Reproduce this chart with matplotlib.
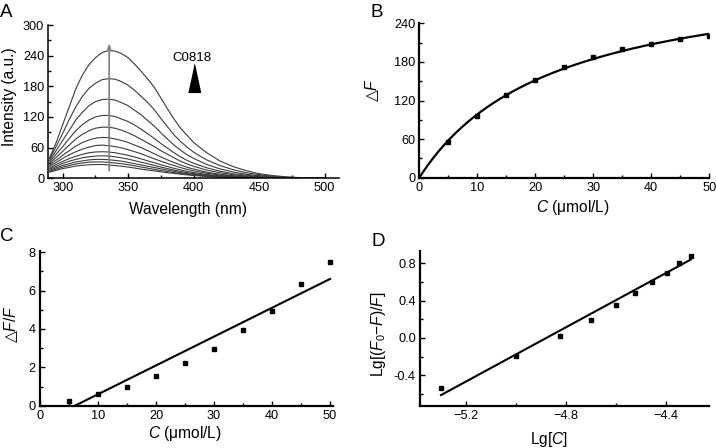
import numpy as np
import matplotlib
matplotlib.use("Agg")
import matplotlib.pyplot as plt
from matplotlib.ticker import MultipleLocator, FuncFormatter, FixedLocator

plt.rcParams['font.family'] = ['Liberation Sans', 'DejaVu Sans']
plt.rcParams['mathtext.fontset'] = 'custom'
plt.rcParams['mathtext.rm'] = 'Liberation Sans'
plt.rcParams['mathtext.it'] = 'Liberation Sans:italic'
plt.rcParams['mathtext.bf'] = 'Liberation Sans:bold'
plt.rcParams['mathtext.sf'] = 'DejaVu Sans'

# ---------------- Panel A: fluorescence spectra ----------------
wavelength = [290, 295, 300, 305, 310, 315, 320, 325, 330, 335, 340, 345, 350, 355, 360,
              365, 370, 375, 380, 385, 390, 395, 400,
              410, 420, 430, 440, 450, 460, 470, 480, 490, 500]
spectra = [
    [40, 70, 105, 140, 175, 202, 222, 236, 246, 250, 249, 244, 236, 223, 209,
     194, 178, 157, 136, 116, 98, 84, 70,
     50, 34, 23, 15, 9, 5.5, 3, 1.5, 0.7, 0],
    [38, 62, 88, 115, 140, 160, 176, 186, 193, 195, 194, 189, 182, 172, 160,
     148, 134, 117, 101, 85, 72, 61, 51,
     36, 25, 17, 11, 7, 4, 2, 1, 0.5, 0],
    [35, 54, 74, 94, 114, 129, 142, 150, 154, 155, 153, 148, 142, 133, 124,
     113, 102, 89, 77, 65, 55, 46, 39,
     27, 18.5, 12.5, 8, 5, 3, 1.5, 0.8, 0.4, 0],
    [32, 47, 62, 78, 93, 105, 114, 120, 123, 123, 121, 116, 111, 104, 96,
     87, 78, 68, 59, 50, 42, 35, 29.5,
     20.5, 14, 9, 6, 3.8, 2.2, 1.2, 0.6, 0.3, 0],
    [29, 41, 53, 65, 77, 86, 93, 98, 100, 100, 98, 94, 89, 83, 76,
     69, 62, 54, 47, 40, 33.5, 28, 23.5,
     16, 11, 7, 4.6, 2.9, 1.7, 0.9, 0.5, 0.2, 0],
    [26, 35.5, 45, 54, 63, 70, 75, 78.5, 80, 79.5, 77, 74, 70, 65, 60,
     54, 48, 42, 36, 31, 26, 21.5, 18,
     12, 8, 5.2, 3.4, 2.1, 1.2, 0.6, 0.3, 0.1, 0],
    [23, 31, 39, 46, 52, 57, 61, 64, 65, 64, 62, 59.5, 56, 52, 48,
     43, 38, 33.5, 29, 25, 21, 17.5, 14.5,
     9.8, 6.5, 4.2, 2.6, 1.6, 0.9, 0.5, 0.2, 0, 0],
    [20, 27, 33, 38.5, 43, 47, 50, 51.5, 52, 51.5, 50, 47.5, 45, 41.5, 38,
     34, 30.5, 26.5, 23, 19.5, 16.5, 13.5, 11.2,
     7.5, 5, 3.2, 2, 1.2, 0.7, 0.3, 0.1, 0, 0],
    [18, 23.5, 29, 33.5, 37, 40, 42, 43.5, 44, 43.5, 42, 40, 37.5, 34.5, 31.5,
     28.5, 25, 22, 19, 16, 13.5, 11, 9,
     6, 4, 2.5, 1.5, 0.9, 0.5, 0.2, 0, 0, 0],
    [16, 20.5, 25, 28.5, 32, 34, 36, 37, 37, 36.5, 35, 33.5, 31, 28.5, 26,
     23.5, 21, 18.5, 16, 13.5, 11, 9.2, 7.5,
     5, 3.3, 2, 1.2, 0.7, 0.4, 0.2, 0, 0, 0],
    [14, 18, 22, 25, 28, 30, 31.5, 32, 32, 31.2, 30, 28.5, 26.5, 24.3, 22,
     19.8, 17.5, 15.3, 13, 11.2, 9.5, 7.9, 6.5,
     4.3, 2.8, 1.7, 1, 0.6, 0.3, 0.1, 0, 0, 0],
    [12, 15.5, 19, 21.5, 24, 25.5, 26.5, 27, 27, 26.2, 25, 23.6, 22, 20, 18,
     16.2, 14.5, 12.7, 11, 9.5, 8, 6.7, 5.5,
     3.6, 2.3, 1.4, 0.8, 0.5, 0.3, 0.1, 0, 0, 0],
]
arrow_wavelength = 335.5
arrow_range = [15, 265]
label_a = "C0818"
label_a_pos = (399, 236)
triangle_pos = (400, 197)

# ---------------- Panel B: ΔF vs C ----------------
conc_b = [5, 10, 15, 20, 25, 30, 35, 40, 45, 50]
dF_b = [56, 96, 128, 152, 172.6, 188, 199.6, 208, 215.7, 220]
fit_b_fmax = 328.0
fit_b_kd = 23.3

# ---------------- Panel C: ΔF/F vs C ----------------
conc_c = [5, 10, 15, 20, 25, 30, 35, 40, 45, 50]
ratio_c = [0.26, 0.61, 1.0, 1.53, 2.23, 2.97, 3.95, 4.92, 6.37, 7.51]
fit_c_slope = 0.1503
fit_c_intercept = -0.906

# ---------------- Panel D: double log ----------------
lg_c = [-5.301, -5.0, -4.824, -4.699, -4.602, -4.523, -4.456, -4.398, -4.347, -4.301]
lg_ratio = [-0.54, -0.198, 0.025, 0.19, 0.353, 0.479, 0.60, 0.69, 0.80, 0.872]
fit_d_slope = 1.45
fit_d_intercept = 7.075

W, H = 716, 448
fig = plt.figure(figsize=(W / 100, H / 100), dpi=100)


def rect(l, r, t, b):
    return [l / W, 1 - b / H, (r - l) / W, (b - t) / H]


TICK_FS = 9.2
LABEL_FS = 11.2
DELTA = r'$\mathsf{△}$'


def style(ax, lw=1.5):
    for s in ['top', 'right']:
        ax.spines[s].set_visible(False)
    for s in ['left', 'bottom']:
        ax.spines[s].set_linewidth(lw)
    ax.tick_params(which='major', direction='in', length=3.5, width=1, labelsize=TICK_FS, pad=3)
    ax.tick_params(which='minor', direction='in', length=2.5, width=1)


# Panel A
axA = fig.add_axes(rect(48.3, 339, 25, 178.3))
style(axA, lw=1.1)
for sp in spectra:
    axA.plot(wavelength, sp, color='#3c3c3c', lw=0.8)
axA.annotate('', xy=(arrow_wavelength, arrow_range[1]), xytext=(arrow_wavelength, arrow_range[0]),
             arrowprops=dict(arrowstyle='-|>,head_width=0.1,head_length=0.3', color='#858585', lw=1.3,
                             shrinkA=0, shrinkB=0))
axA.text(label_a_pos[0], label_a_pos[1], label_a, ha='center', va='center', fontsize=9.5)
axA.plot([triangle_pos[0]], [triangle_pos[1]], marker=[(-0.43, -1), (0.43, -1), (0, 1)],
         markersize=20, color='black', linestyle='none')
axA.set_xlim(289, 511)
axA.set_ylim(0, 300)
axA.xaxis.set_major_locator(MultipleLocator(50))
axA.xaxis.set_minor_locator(MultipleLocator(25))
axA.yaxis.set_major_locator(MultipleLocator(60))
axA.yaxis.set_minor_locator(MultipleLocator(30))
axA.set_xlabel('Wavelength (nm)', fontsize=LABEL_FS)
axA.set_ylabel('Intensity (a.u.)', fontsize=LABEL_FS)
axA.xaxis.set_label_coords(0.48, -0.153)
axA.yaxis.set_label_coords(-0.109, 0.532)

# Panel B
axB = fig.add_axes(rect(419.3, 709.3, 23.3, 177.7))
style(axB, lw=1.6)
xs = np.linspace(0, max(conc_b), 300)
axB.plot(xs, fit_b_fmax * xs / (fit_b_kd + xs), color='black', lw=1.6)
axB.plot(conc_b, dF_b, 's', color='black', markersize=3.2)
axB.set_xlim(0, 50)
axB.set_ylim(0, 240)
axB.xaxis.set_major_locator(MultipleLocator(10))
axB.xaxis.set_minor_locator(MultipleLocator(5))
axB.yaxis.set_major_locator(MultipleLocator(60))
axB.yaxis.set_minor_locator(MultipleLocator(30))
axB.set_xlabel(r'$\mathit{C}$ (μmol/L)', fontsize=LABEL_FS)
axB.set_ylabel(DELTA + r'$\mathit{F}$', fontsize=LABEL_FS)
axB.xaxis.set_label_coords(0.529, -0.133)
axB.yaxis.set_label_coords(-0.132, 0.568)

# Panel C
axC = fig.add_axes(rect(40, 333, 250.7, 405.7))
style(axC, lw=1.6)
xc = np.array([conc_c[0], conc_c[-1]], dtype=float)
axC.plot(xc, fit_c_slope * xc + fit_c_intercept, color='black', lw=1.5)
axC.plot(conc_c, ratio_c, 's', color='black', markersize=3.2)
axC.set_xlim(0, 50.5)
axC.set_ylim(0, 8.08)
axC.xaxis.set_major_locator(MultipleLocator(10))
axC.xaxis.set_minor_locator(MultipleLocator(5))
axC.yaxis.set_major_locator(MultipleLocator(2))
axC.yaxis.set_minor_locator(MultipleLocator(1))
axC.set_xlabel(r'$\mathit{C}$ (μmol/L)', fontsize=LABEL_FS)
axC.set_ylabel(DELTA + r'$\mathit{F}$/$\mathit{F}$', fontsize=LABEL_FS)
axC.xaxis.set_label_coords(0.495, -0.118)
axC.yaxis.set_label_coords(-0.068, 0.527)

# Panel D
axD = fig.add_axes(rect(420, 709.3, 251, 405.7))
style(axD, lw=1.6)
xd = np.array([lg_c[0], lg_c[-1]])
axD.plot(xd, fit_d_slope * xd + fit_d_intercept, color='black', lw=1.5)
axD.plot(lg_c, lg_ratio, 's', color='black', markersize=3.2)
axD.set_xlim(-5.385, -4.227)
axD.set_ylim(-0.725, 0.93)
axD.xaxis.set_major_locator(FixedLocator([-5.2, -4.8, -4.4]))
axD.xaxis.set_minor_locator(FixedLocator([-5.0, -4.6]))
axD.yaxis.set_major_locator(FixedLocator([-0.4, 0.0, 0.4, 0.8]))
axD.yaxis.set_minor_locator(FixedLocator([-0.6, -0.2, 0.2, 0.6]))
axD.xaxis.set_major_formatter(FuncFormatter(lambda v, p: f"{v:.1f}".replace('-', '\u2212')))
axD.yaxis.set_major_formatter(FuncFormatter(lambda v, p: f"{v:.1f}"))
axD.set_xlabel(r'Lg[$\mathit{C}$]', fontsize=LABEL_FS)
axD.set_ylabel(r'Lg[($\mathit{F}_{0}$$-$$\mathit{F}$)/$\mathit{F}$]', fontsize=LABEL_FS)
axD.xaxis.set_label_coords(0.447, -0.16)
axD.yaxis.set_label_coords(-0.112, 0.463)

# Panel letters
for letter, (px, py) in {'A': (0, 4), 'B': (370, 4), 'C': (0, 228), 'D': (372, 233)}.items():
    fig.text(px / W, 1 - py / H, letter, ha='left', va='top', fontsize=13.5)

fig.savefig('out.png', dpi=100)
